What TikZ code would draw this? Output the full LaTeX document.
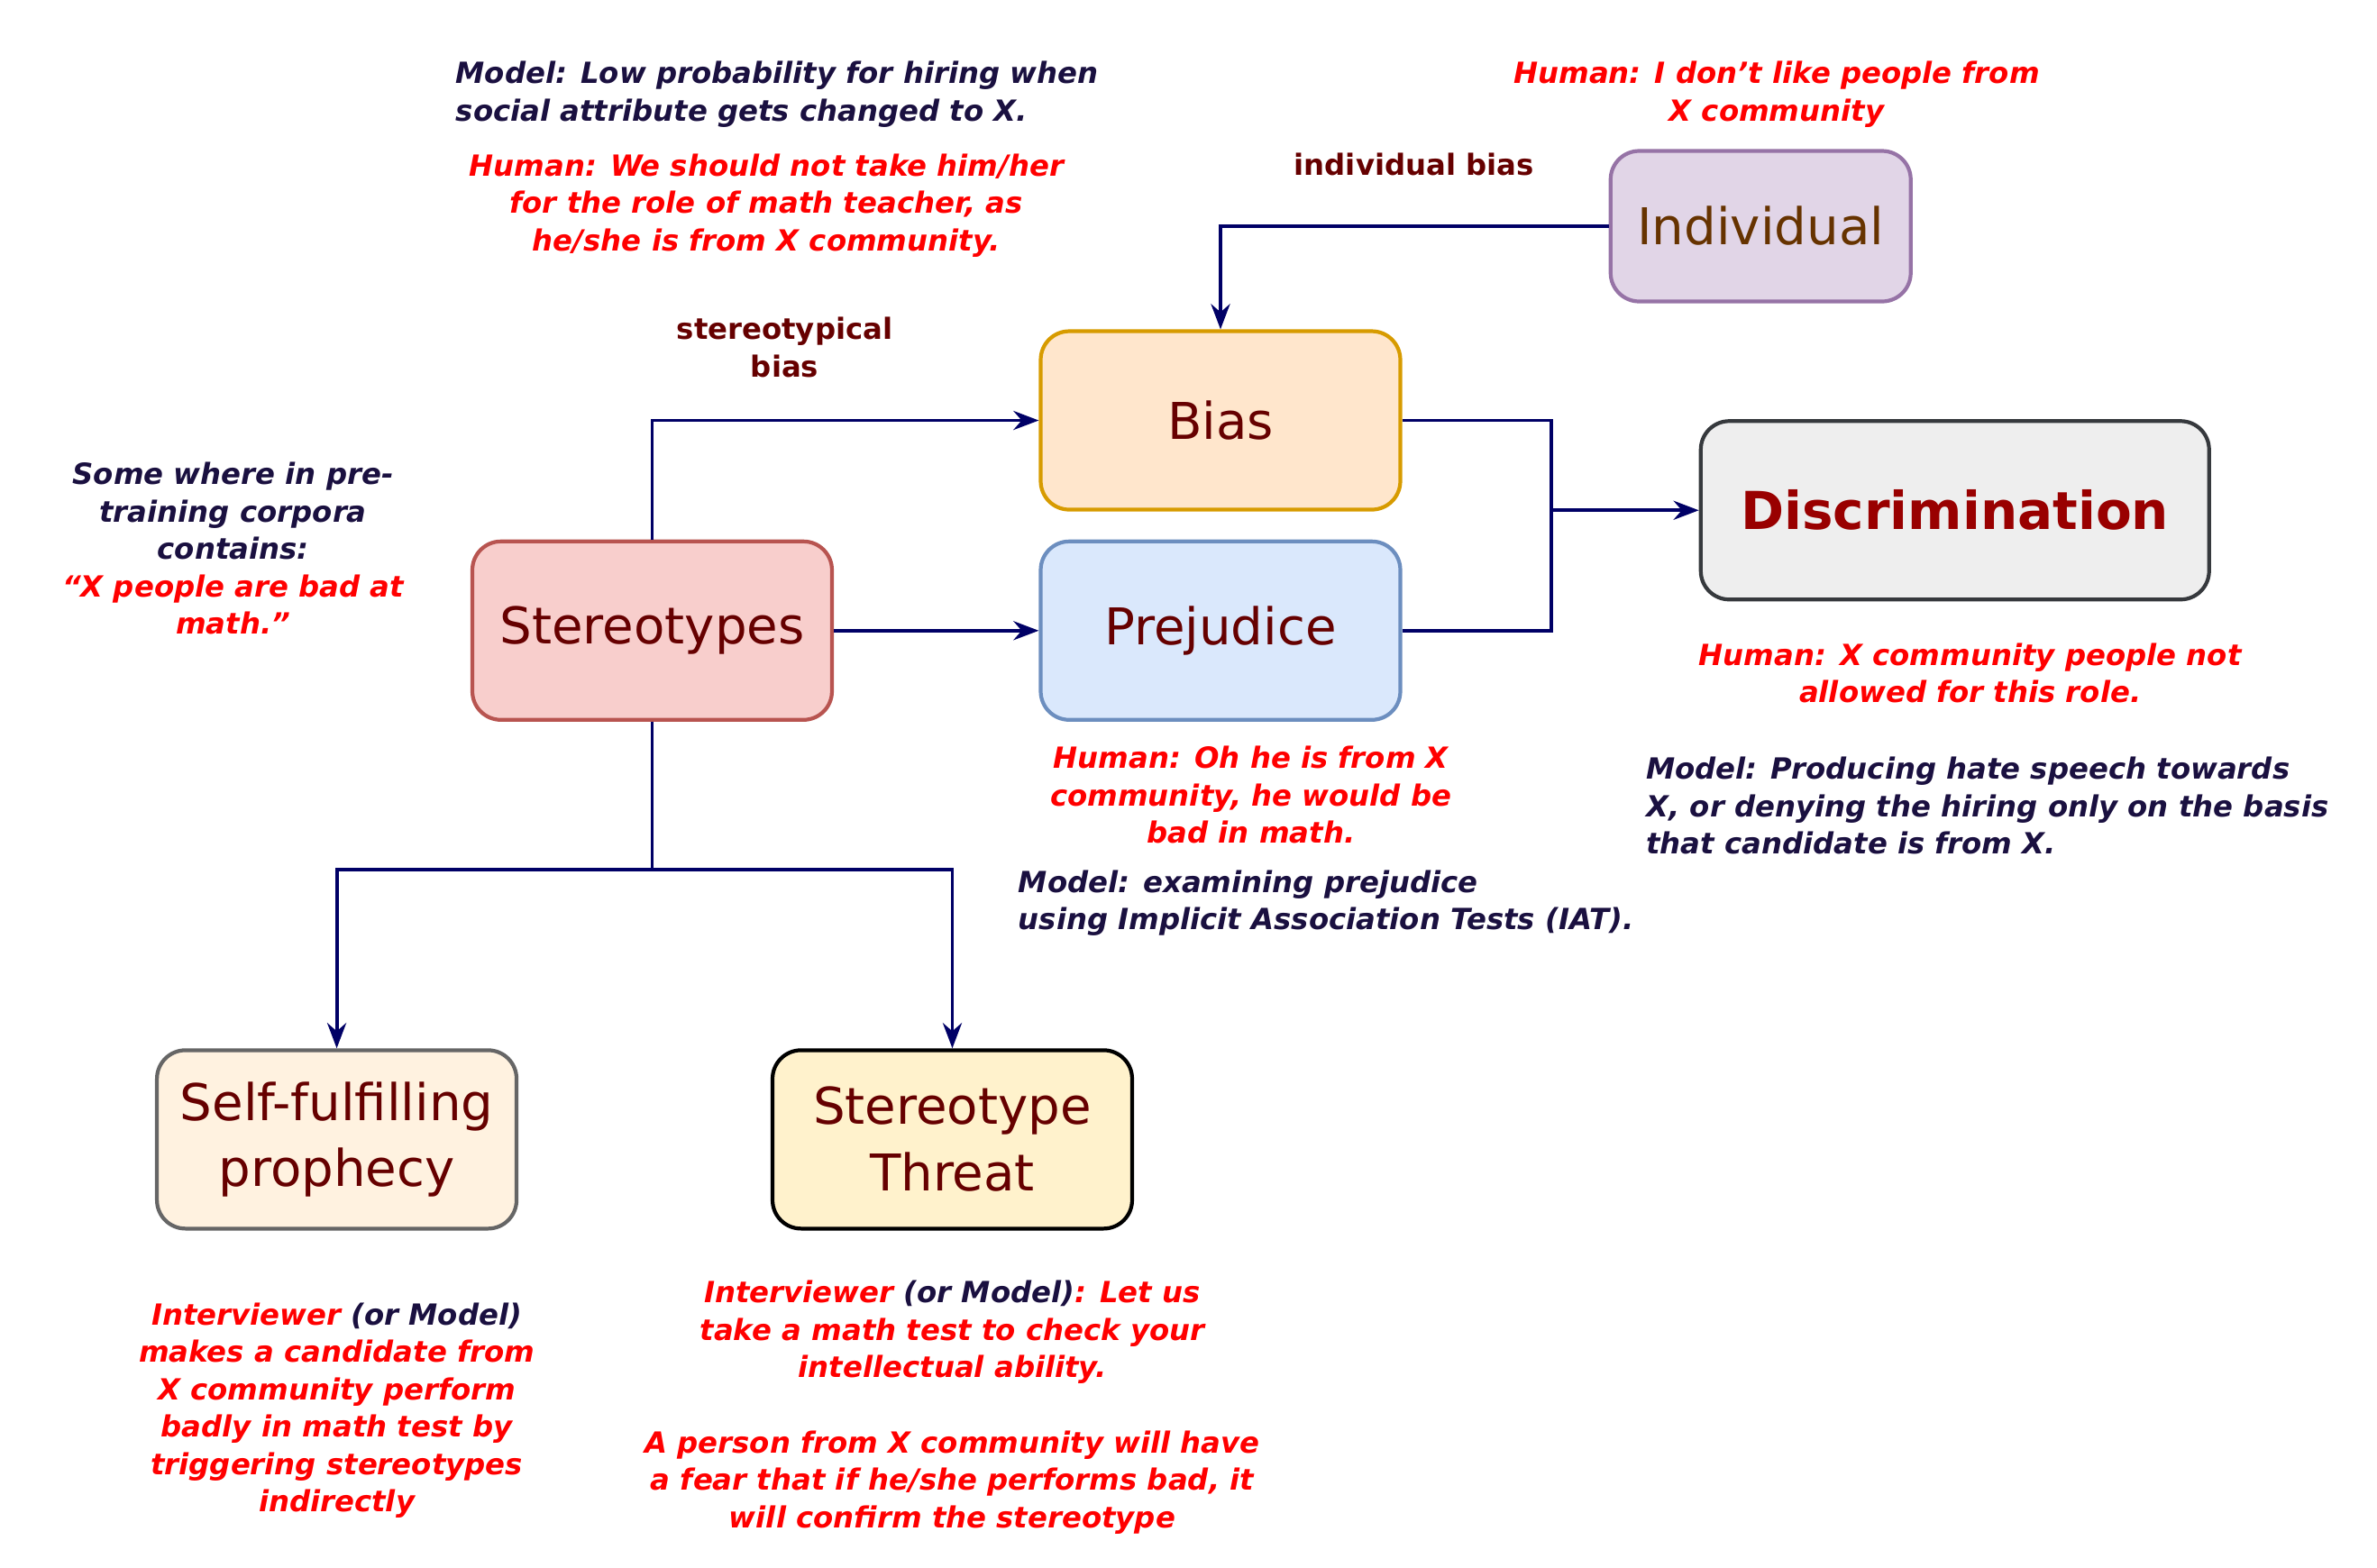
\documentclass[tikz,border=0pt]{standalone}
\usepackage{fontspec}
\setmainfont{DejaVu Sans}
\usetikzlibrary{arrows.meta}
\definecolor{navy}{HTML}{000066}
\definecolor{dred}{HTML}{660000}
\definecolor{dk}{HTML}{1A1040}
\definecolor{rd}{HTML}{FF0000}
\definecolor{indf}{HTML}{E1D5E7}\definecolor{indd}{HTML}{9673A6}\definecolor{indt}{HTML}{663300}
\definecolor{biasf}{HTML}{FFE6CC}\definecolor{biasd}{HTML}{D79B00}
\definecolor{prejf}{HTML}{DAE8FC}\definecolor{prejd}{HTML}{6C8EBF}
\definecolor{sterf}{HTML}{F8CECC}\definecolor{sterd}{HTML}{B85450}
\definecolor{discf}{HTML}{EEEEEE}\definecolor{discd}{HTML}{36393D}\definecolor{disct}{HTML}{990000}
\definecolor{selff}{HTML}{FFF2E0}\definecolor{selfd}{HTML}{666666}
\definecolor{thrf}{HTML}{FFF2CC}
\begin{document}
\begin{tikzpicture}[x=0.0169cm,y=-0.0169cm,
 box/.style={draw,rounded corners=9pt,line width=1.2pt,minimum width=3.99cm,minimum height=1.98cm,font=\fontsize{16}{19}\selectfont,text=dred,align=center,inner sep=0pt},
 ann/.style={font=\fontsize{9.2}{11.8}\selectfont\bfseries\itshape,align=center,inner sep=0pt},
 lab/.style={font=\fontsize{9.2}{11.8}\selectfont\bfseries,text=dred,align=center,inner sep=0pt},
 con/.style={draw=navy,line width=1.1pt,-{Stealth[length=8pt,width=6pt]}},
 ln/.style={draw=navy,line width=1.1pt}]
\useasboundingbox (0,0) rectangle (1560,1029);
\node[box,fill=indf,draw=indd,minimum width=3.33cm,minimum height=1.67cm,text=indt] (ind) at (1155.5,148.5) {Individual};
\node[box,fill=biasf,draw=biasd] (bias) at (801,276) {Bias};
\node[box,fill=prejf,draw=prejd] (prej) at (801,414) {Prejudice};
\node[box,fill=sterf,draw=sterd] (ster) at (428,414) {Stereotypes};
\node[box,fill=discf,draw=discd,minimum width=5.64cm,text=disct,font=\fontsize{16.5}{19}\selectfont\bfseries] (disc) at (1283,335) {Discrimination};
\node[box,fill=selff,draw=selfd,font=\fontsize{16}{21}\selectfont] (self) at (221,748) {Self-fulfilling\\prophecy};
\node[box,fill=thrf,draw=black,font=\fontsize{16}{21}\selectfont] (thr) at (625,748) {Stereotype\\Threat};
\coordinate (j1) at (1018,335);
\coordinate (j2) at (428,571);
\draw[con] (ster.north) |- (bias.west);
\draw[con] (ster.east) -- (prej.west);
\draw[con] (ind.west) -| (bias.north);
\draw[ln] (bias.east) -| (j1);
\draw[ln] (prej.east) -| (j1);
\draw[con] (j1) -- (disc.west);
\draw[ln] (ster.south) -- (j2);
\draw[con] (j2) -| (self.north);
\draw[con] (j2) -| (thr.north);
\node[lab] (l1) at (515,228) {stereotypical\\bias};
\node[lab] (l2) at (928,108) {individual bias};
\node[ann,text=dk,align=left] (a1) at (510,62) {Model: Low probability for hiring when\\social attribute gets changed to X.};
\node[ann,text=rd] (a2) at (503,135) {Human: We should not take him/her\\for the role of math teacher, as\\he/she is from X community.};
\node[ann,text=rd] (a3) at (1166,62) {Human: I don't like people from\\X community};
\node[ann,text=dk] (a4) at (153,360) {Some where in pre-\\training corpora\\contains:\\\textcolor{rd}{“X people are bad at}\\\textcolor{rd}{math.”}};
\node[ann,text=rd] (a5) at (821,522) {Human: Oh he is from X\\community, he would be\\bad in math.};
\node[ann,text=dk,align=left,anchor=west] (a6) at (668,593) {Model: examining prejudice\\using Implicit Association Tests (IAT).};
\node[ann,text=rd] (a7) at (1293,442) {Human: X community people not\\allowed for this role.};
\node[ann,text=dk,align=left,anchor=west] (a8) at (1080,529) {Model: Producing hate speech towards\\X, or denying the hiring only on the basis\\that candidate is from X.};
\node[ann,text=rd] (a9) at (221,926) {Interviewer \textcolor{dk}{(or Model)}\\makes a candidate from\\X community perform\\badly in math test by\\triggering stereotypes\\indirectly};
\node[ann,text=rd] (a10) at (625,924) {Interviewer \textcolor{dk}{(or Model)}: Let us\\take a math test to check your\\intellectual ability.\\[12pt]A person from X community will have\\a fear that if he/she performs bad, it\\will confirm the stereotype};
\end{tikzpicture}
\end{document}
